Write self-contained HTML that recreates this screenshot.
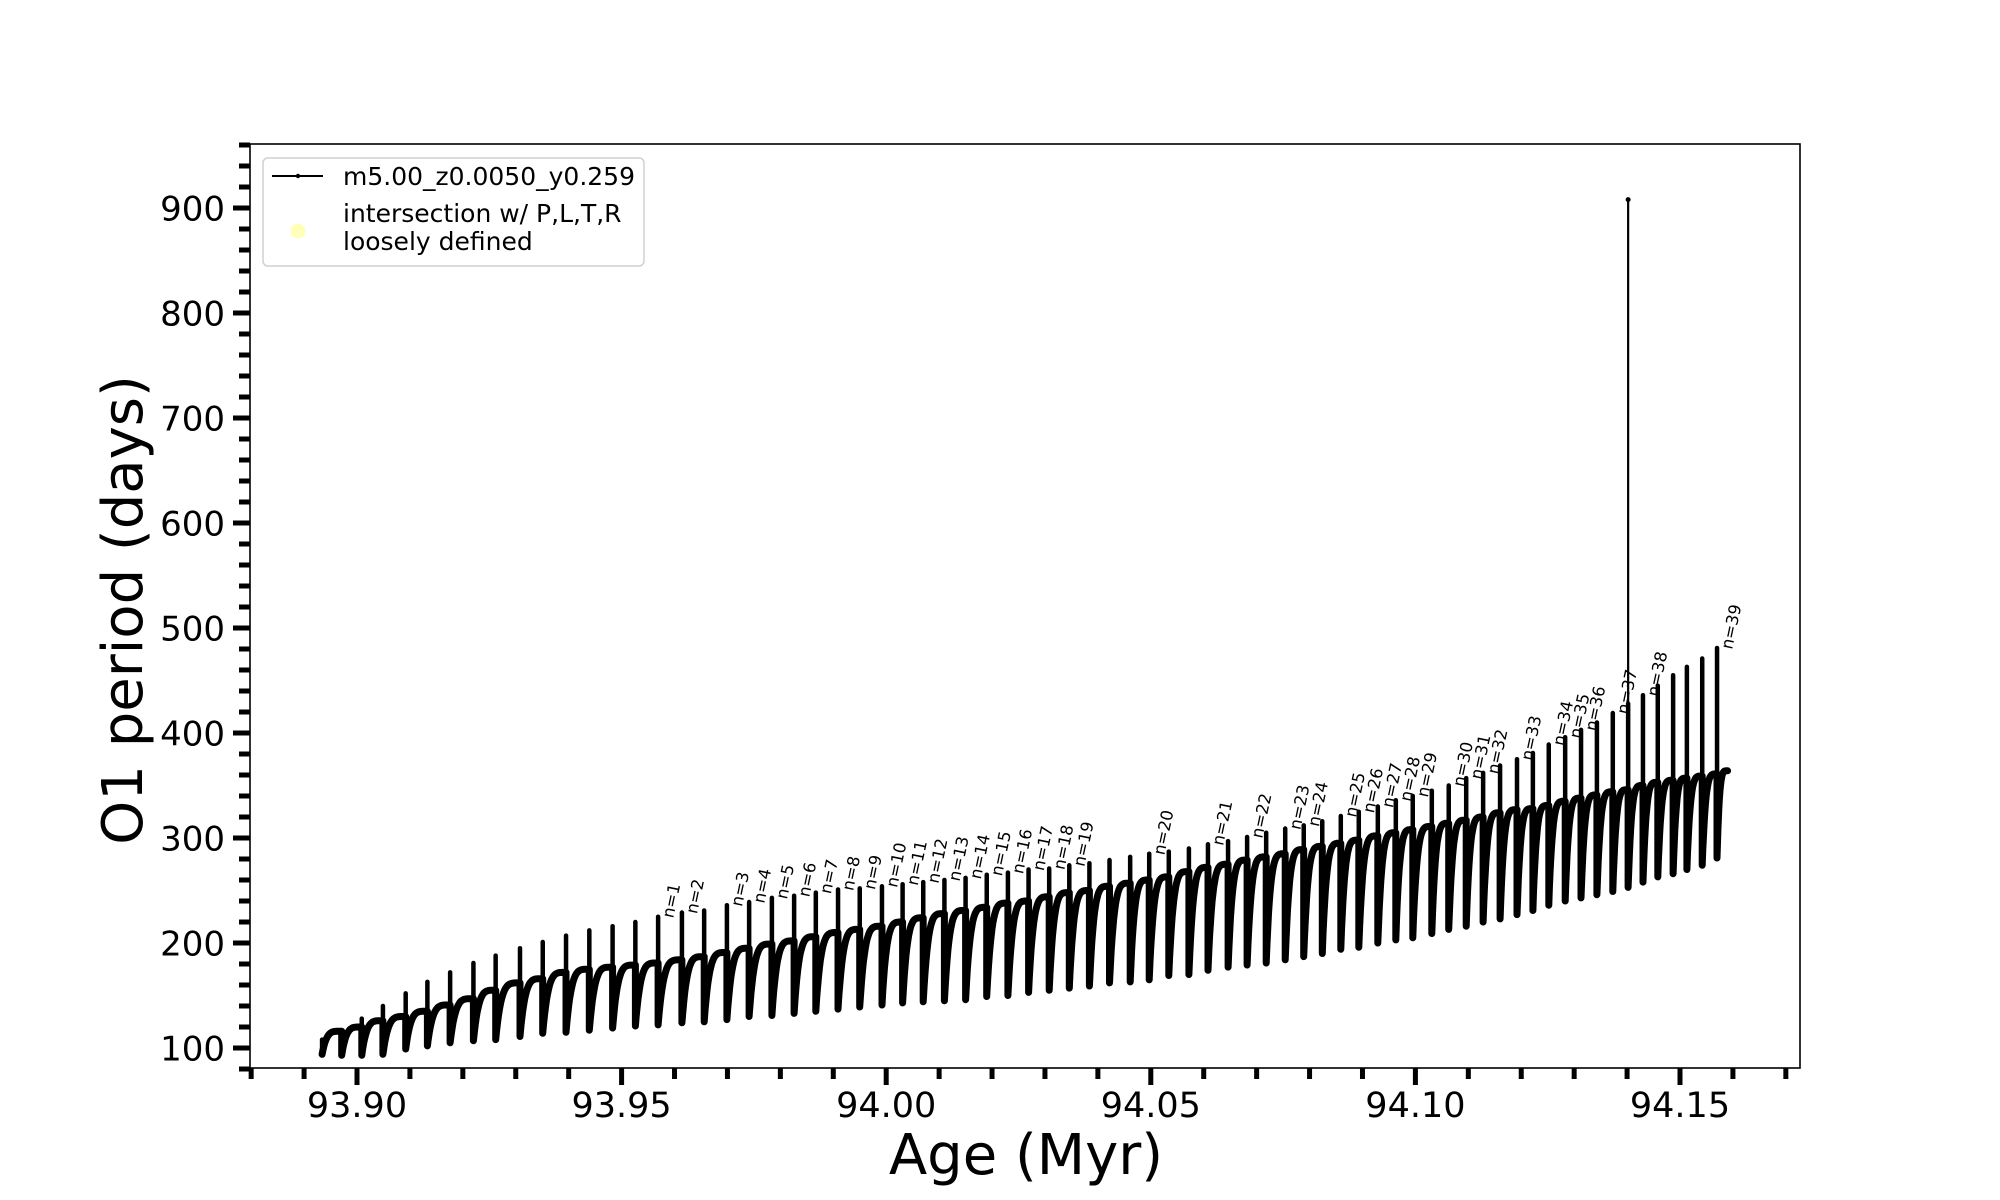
<!DOCTYPE html>
<html><head><meta charset="utf-8"><style>
html,body{margin:0;padding:0;background:#fff;}
svg{display:block;font-family:"DejaVu Sans","Liberation Sans",sans-serif;}
</style></head><body>
<svg id="chart" width="2000" height="1200" viewBox="0 0 2000 1200">
<rect x="0" y="0" width="2000" height="1200" fill="#fff"/>
<g id="marks"></g>
<g id="axes"></g>
<rect x="250" y="144" width="1550" height="924" fill="none" stroke="#000" stroke-width="1.6"/>
<text x="1026" y="1174" font-size="56" text-anchor="middle">Age (Myr)</text>
<text transform="translate(142,610) rotate(-90)" font-size="56" text-anchor="middle">O1 period (days)</text>
<g>
<rect x="263" y="158" width="381" height="108" rx="5" fill="#fff" fill-opacity="0.8" stroke="#d0d0d0" stroke-width="1.5"/>
<line x1="272" y1="176" x2="323" y2="176" stroke="#000" stroke-width="2"/>
<circle cx="298" cy="176" r="2.2" fill="#000"/>
<text x="343" y="185" font-size="25">m5.00_z0.0050_y0.259</text>
<circle cx="298" cy="231" r="7.5" fill="#ffffb8"/>
<text x="343" y="222" font-size="25">intersection w/ P,L,T,R</text>
<text x="343" y="250" font-size="25">loosely defined</text>
</g>
</svg>
<script>
// spike ages (Myr)
const spikeAges = [93.8934,93.8971,93.9009,93.9049,93.9092,93.9133,93.9176,93.9220,93.9262,93.9308,93.9351,93.9395,93.9439,93.9483,93.9526,
93.9569,93.9614,93.9656,93.9699,93.9741,93.9784,93.9826,93.9867,93.9909,93.9950,93.9992,
94.0031,94.0070,94.0110,94.0150,94.0190,94.0230,94.0269,94.0308,94.0346,94.0384,94.0422,94.0461,94.0497,
94.0534,94.0572,94.0608,94.0646,94.0682,94.0718,94.0754,94.0789,94.0824,94.0859,94.0893,94.0929,94.0963,94.0995,94.1031,94.1063,94.1096,94.1128,94.1160,94.1192,94.1222,94.1252,94.1283,94.1313,94.1343,94.1373,94.1402,94.1430,94.1458,94.1487,94.1513,94.1542,94.1570];
// spike maximum period (days)
const spikeMax = [108,117,128,140,152,163,172,181,188,195,201,207,212,216,220,
225,229,231,236,239,243,245,248,251,252,254,
256,258,260,262,265,267,270,271,274,276,279,282,285,
287,290,294,297,301,305,309,312,316,321,325,330,336,340,345,350,357,362,369,375,381,389,396,403,410,419,428,436,445,455,463,471,481];
// spike minimum period (days)
const spikeMin = [94,93,93,94,99,102,105,107,108,111,114,115,117,119,121,
122,124,125,127,130,131,133,135,137,139,141,
143,144,145,146,149,150,153,155,157,159,162,163,165,
169,170,174,177,179,181,184,187,190,194,196,200,203,205,209,213,216,220,223,227,231,236,240,243,246,249,253,258,263,266,270,274,281];
// plateau reached before the following spike (days)
const plateau = [116,120,126,130,135,141,147,155,162,166,172,175,177,179,181,
184,187,191,195,199,202,206,210,213,216,220,
224,228,231,234,238,240,244,248,250,254,257,260,263,
268,272,275,279,282,285,289,292,295,298,302,305,308,311,314,317,320,324,327,328,331,335,338,341,344,346,350,353,355,357,359,361,364];
const endAge = 94.1590;
// isolated tall spike
const tallAge = [94.1402];
const tallLow = [253];
const tallHigh = [908];
// annotations: label number and index of annotated spike
const labelN = [1,2,3,4,5,6,7,8,9,10,11,12,13,14,15,16,17,18,19,20,21,22,23,24,25,26,27,28,29,30,31,32,33,34,35,36,37,38,39];
const labelSpike = [15,16,18,19,20,21,22,23,24,25,26,27,28,29,30,31,32,33,34,38,41,43,45,46,48,49,50,51,52,54,55,56,58,60,61,62,64,66,71];
// ticks
const yMajor = [100,200,300,400,500,600,700,800,900];
const xMajor = [93.90,93.95,94.00,94.05,94.10,94.15];
const xMajorLabels = ["93.90","93.95","94.00","94.05","94.10","94.15"];

const NS = "http://www.w3.org/2000/svg";
function X(a){ return 357 + (a - 93.9) * 5292; }
function Y(v){ return 1048 - (v - 100) * 1.05; }
function mk(tag, attrs, parent){ const e = document.createElementNS(NS, tag); for (const k in attrs) e.setAttribute(k, attrs[k]); parent.appendChild(e); return e; }

const marks = document.getElementById('marks');
const axes = document.getElementById('axes');

// curves
let d = "";
for (let i = 0; i < spikeAges.length; i++) {
  const a0 = spikeAges[i], a1 = (i + 1 < spikeAges.length) ? spikeAges[i + 1] : endAge;
  const lo = spikeMin[i], hi = plateau[i];
  for (let s = 0; s <= 24; s++) {
    const t = s / 24;
    const f = 1 - Math.pow(1 - t, 4.5);
    const px = X(a0 + (a1 - a0) * t), py = Y(lo + (hi - lo) * f);
    d += (s === 0 ? "M" : "L") + px.toFixed(1) + " " + py.toFixed(1);
  }
  if (i + 1 < spikeAges.length) d += "L" + X(a1).toFixed(1) + " " + Y(spikeMin[i + 1]).toFixed(1);
}
const curve = mk('path', {d: d, fill: 'none', stroke: '#000', 'stroke-width': 7, 'stroke-linejoin': 'round', 'stroke-linecap': 'round'}, marks);



// spikes
for (let i = 0; i < spikeAges.length; i++) {
  const ln = mk('line', {x1: X(spikeAges[i]), x2: X(spikeAges[i]), y1: Y(spikeMin[i]), y2: Y(spikeMax[i]), stroke: '#000', 'stroke-width': 4.5, 'stroke-linecap': 'round'}, marks);
  
  
}
for (let i = 0; i < tallAge.length; i++) {
  const ln = mk('line', {x1: X(tallAge[i]), x2: X(tallAge[i]), y1: Y(tallLow[i]), y2: Y(tallHigh[i]), stroke: '#000', 'stroke-width': 2.2}, marks);
  
  
  const c = mk('circle', {cx: X(tallAge[i]), cy: Y(tallHigh[i]), r: 2.5, fill: '#000'}, marks);
  
  
}

// labels
for (let j = 0; j < labelN.length; j++) {
  const k = labelSpike[j];
  const lx = X(spikeAges[k]) + 15, ly = Y(spikeMax[k]) + 2;
  const t = mk('text', {x: 0, y: 0, 'font-size': 16.5, transform: 'translate(' + lx.toFixed(1) + ',' + ly.toFixed(1) + ') rotate(-78)'}, marks);
  t.textContent = 'n=' + labelN[j];
  
  
}

// y ticks
for (let v = 80; v <= 960; v += 20) {
  const major = yMajor.indexOf(v) >= 0;
  const tk = mk('line', {x1: 250 - (major ? 17 : 11), x2: 250, y1: Y(v), y2: Y(v), stroke: '#000', 'stroke-width': 5}, axes);
  
  
}
for (let j = 0; j < yMajor.length; j++) {
  const t = mk('text', {x: 225, y: Y(yMajor[j]) + 12.5, 'font-size': 34, 'text-anchor': 'end'}, axes);
  t.textContent = String(yMajor[j]);
  
  
}
// x ticks
for (let m = 0; m <= 29; m++) {
  const a = 93.88 + m * 0.01;
  const major = xMajor.some(v => Math.abs(v - a) < 1e-6);
  const tk = mk('line', {x1: X(a), x2: X(a), y1: 1068, y2: 1068 + (major ? 17 : 11), stroke: '#000', 'stroke-width': 5}, axes);
  
  
}
for (let j = 0; j < xMajor.length; j++) {
  const t = mk('text', {x: X(xMajor[j]), y: 1117, 'font-size': 35, 'text-anchor': 'middle'}, axes);
  t.textContent = xMajorLabels[j];
  
  
}
</script>
</body></html>
